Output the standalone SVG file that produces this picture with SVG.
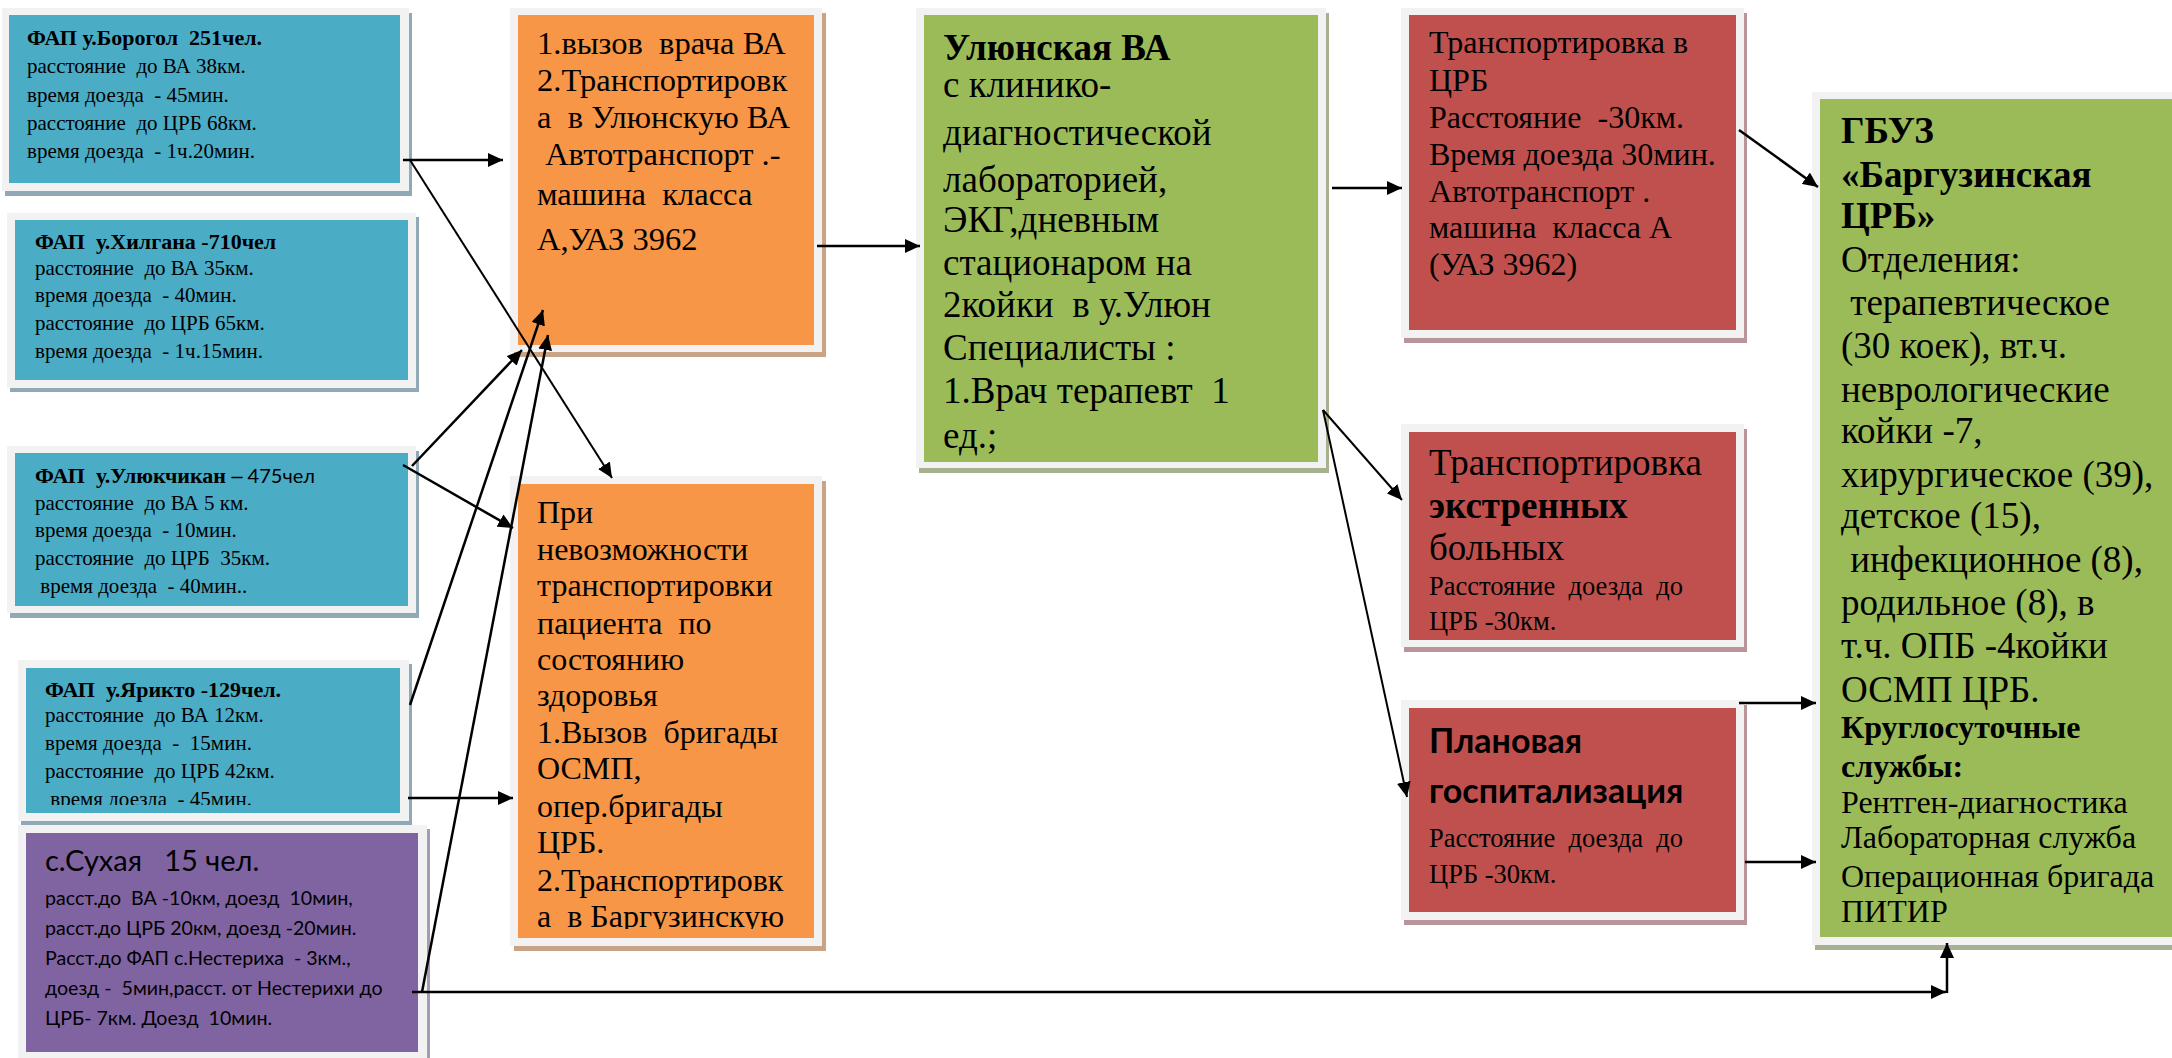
<svg xmlns="http://www.w3.org/2000/svg" width="2172" height="1058" viewBox="0 0 2172 1058">
<defs>
<style>
.t{font-family:"Liberation Serif","Times New Roman",serif;white-space:pre;fill:#000}
.b{font-weight:bold}
.s{font-family:Lato,"Liberation Sans",sans-serif;white-space:pre;fill:#000}
.fr{fill:#f2f2f2}
.blue{fill:#4bacc6}.shb{fill:#8faab6}
.org{fill:#f79646}.sho{fill:#c9a384}
.grn{fill:#9bbb59}.shg{fill:#a6b28f}
.red{fill:#c0504d}.shr{fill:#b9959a}
.pur{fill:#8064a2}.shp{fill:#a49cb2}
.c line{stroke:#000;stroke-width:2.5;fill:none}
.c line.a{marker-end:url(#ah)}
.c line.thin{stroke-width:2}
</style>
<marker id="ah" markerUnits="userSpaceOnUse" markerWidth="16" markerHeight="14" refX="15" refY="7" orient="auto">
<path d="M0,0 L15,7 L0,14 z" fill="#000"/>
</marker>
<clipPath id="clipY"><rect x="26" y="668" width="374" height="137"/></clipPath>
<clipPath id="clipO2"><rect x="518" y="484" width="296" height="445"/></clipPath>
</defs>
<rect x="0" y="0" width="2172" height="1058" fill="#fff"/>

<g id="fap-borogol">
<rect class="shb" x="5" y="13" width="407" height="183"/>
<rect class="fr" x="2" y="8" width="407" height="183"/>
<rect class="blue" x="9" y="15" width="391" height="168"/>
<text class="t" font-size="21"><tspan class="b" x="27" y="45" font-size="22">ФАП у.Борогол  251чел.</tspan><tspan x="27" y="73">расстояние  до ВА 38км.</tspan><tspan x="27" y="102">время доезда  - 45мин.</tspan><tspan x="27" y="130">расстояние  до ЦРБ 68км.</tspan><tspan x="27" y="158">время доезда  - 1ч.20мин.</tspan></text>
</g>

<g id="fap-khilgana">
<rect class="shb" x="10" y="217" width="409" height="175"/>
<rect class="fr" x="7" y="213" width="409" height="175"/>
<rect class="blue" x="15" y="220" width="393" height="160"/>
<text class="t" font-size="21"><tspan class="b" x="35" y="249" font-size="22">ФАП  у.Хилгана -710чел</tspan><tspan x="35" y="275">расстояние  до ВА 35км.</tspan><tspan x="35" y="302">время доезда  - 40мин.</tspan><tspan x="35" y="330">расстояние  до ЦРБ 65км.</tspan><tspan x="35" y="358">время доезда  - 1ч.15мин.</tspan></text>
</g>

<g id="fap-ulyukchikan">
<rect class="shb" x="10" y="451" width="409" height="167"/>
<rect class="fr" x="7" y="446" width="409" height="167"/>
<rect class="blue" x="15" y="453" width="393" height="153"/>
<text class="t" font-size="21"><tspan class="b" x="35" y="483" font-size="22">ФАП  у.Улюкчикан –</tspan><tspan class="s" font-size="20"> 475чел</tspan><tspan x="35" y="510">расстояние  до ВА 5 км.</tspan><tspan x="35" y="537">время доезда  - 10мин.</tspan><tspan x="35" y="565">расстояние  до ЦРБ  35км.</tspan><tspan x="35" y="593"> время доезда  - 40мин..</tspan></text>
</g>

<g id="fap-yarikto">
<rect class="shb" x="21" y="664" width="391" height="161"/>
<rect class="fr" x="18" y="660" width="391" height="161"/>
<rect class="blue" x="26" y="668" width="374" height="145"/>
<text class="t" font-size="21" clip-path="url(#clipY)"><tspan class="b" x="45" y="697" font-size="22">ФАП  у.Ярикто -129чел.</tspan><tspan x="45" y="722">расстояние  до ВА 12км.</tspan><tspan x="45" y="750">время доезда  -  15мин.</tspan><tspan x="45" y="778">расстояние  до ЦРБ 42км.</tspan><tspan x="45" y="806"> время доезда  - 45мин.</tspan></text>
</g>

<g id="sukhaya">
<rect class="shp" x="21" y="829" width="409" height="240"/>
<rect class="fr" x="18" y="825" width="409" height="240"/>
<rect class="pur" x="26" y="833" width="392" height="219"/>
<text class="s"><tspan x="45" y="871" font-size="29">с.Сухая   15 чел.</tspan><tspan x="45" y="905" font-size="19.6">расст.до  ВА -10км, доезд  10мин,</tspan><tspan x="45" y="935" font-size="19.6">расст.до ЦРБ 20км, доезд -20мин.</tspan><tspan x="45" y="965" font-size="19.6">Расст.до ФАП с.Нестериха  - 3км.,</tspan><tspan x="45" y="995" font-size="19.6">доезд -  5мин,расст. от Нестерихи до</tspan><tspan x="45" y="1025" font-size="19.6">ЦРБ- 7км. Доезд  10мин.</tspan></text>
</g>

<g id="call-doctor">
<rect class="sho" x="514" y="13" width="312" height="344"/>
<rect class="fr" x="510" y="8" width="312" height="344"/>
<rect class="org" x="518" y="15" width="296" height="330"/>
<text class="t" font-size="32.5"><tspan x="537" y="54">1.вызов  врача ВА</tspan><tspan x="537" y="91">2.Транспортировк</tspan><tspan x="537" y="128">а  в Улюнскую ВА</tspan><tspan x="537" y="165"> Автотранспорт .-</tspan><tspan x="537" y="205">машина  класса</tspan><tspan x="537" y="250">А,УАЗ 3962</tspan></text>
</g>

<g id="emergency-team">
<rect class="sho" x="514" y="481" width="312" height="470"/>
<rect class="fr" x="510" y="476" width="312" height="470"/>
<rect class="org" x="518" y="484" width="296" height="454"/>
<text class="t" font-size="32" clip-path="url(#clipO2)"><tspan x="537" y="523">При</tspan><tspan x="537" y="560">невозможности</tspan><tspan x="537" y="596">транспортировки</tspan><tspan x="537" y="634">пациента  по</tspan><tspan x="537" y="670">состоянию</tspan><tspan x="537" y="706">здоровья</tspan><tspan x="537" y="743">1.Вызов  бригады</tspan><tspan x="537" y="779">ОСМП,</tspan><tspan x="537" y="817">опер.бригады</tspan><tspan x="537" y="853">ЦРБ.</tspan><tspan x="537" y="891">2.Транспортировк</tspan><tspan x="537" y="927">а  в Баргузинскую</tspan></text>
</g>

<g id="ulyun-va">
<rect class="shg" x="919" y="13" width="410" height="460"/>
<rect class="fr" x="916" y="8" width="410" height="460"/>
<rect class="grn" x="924" y="15" width="394" height="447"/>
<text class="t" font-size="37"><tspan class="b" x="943" y="60">Улюнская ВА</tspan><tspan x="943" y="97">с клинико-</tspan><tspan x="943" y="145">диагностической</tspan><tspan x="943" y="192">лабораторией,</tspan><tspan x="943" y="232">ЭКГ,дневным</tspan><tspan x="943" y="275">стационаром на</tspan><tspan x="943" y="317">2койки  в у.Улюн</tspan><tspan x="943" y="360">Специалисты :</tspan><tspan x="943" y="403">1.Врач терапевт  1</tspan><tspan x="943" y="448">ед.;</tspan></text>
</g>

<g id="transport-crb">
<rect class="shr" x="1404" y="13" width="343" height="330"/>
<rect class="fr" x="1401" y="8" width="343" height="330"/>
<rect class="red" x="1409" y="15" width="327" height="315"/>
<text class="t" font-size="32"><tspan x="1429" y="53">Транспортировка в</tspan><tspan x="1429" y="91">ЦРБ</tspan><tspan x="1429" y="128">Расстояние  -30км.</tspan><tspan x="1429" y="165">Время доезда 30мин.</tspan><tspan x="1429" y="202">Автотранспорт .</tspan><tspan x="1429" y="238">машина  класса А</tspan><tspan x="1429" y="275">(УАЗ 3962)</tspan></text>
</g>

<g id="transport-emergency">
<rect class="shr" x="1404" y="429" width="343" height="223"/>
<rect class="fr" x="1401" y="424" width="343" height="223"/>
<rect class="red" x="1409" y="432" width="327" height="208"/>
<text class="t"><tspan x="1429" y="475" font-size="37">Транспортировка</tspan><tspan class="b" x="1429" y="518" font-size="37">экстренных</tspan><tspan x="1429" y="560" font-size="37">больных</tspan><tspan x="1429" y="595" font-size="26.5">Расстояние  доезда  до</tspan><tspan x="1429" y="630" font-size="26.5">ЦРБ -30км.</tspan></text>
</g>

<g id="planned">
<rect class="shr" x="1404" y="705" width="343" height="220"/>
<rect class="fr" x="1401" y="700" width="343" height="220"/>
<rect class="red" x="1409" y="708" width="327" height="204"/>
<text class="s b" font-size="34"><tspan x="1429" y="753">Плановая</tspan><tspan x="1429" y="803">госпитализация</tspan></text>
<text class="t" font-size="26.5"><tspan x="1429" y="847">Расстояние  доезда  до</tspan><tspan x="1429" y="883">ЦРБ -30км.</tspan></text>
</g>

<g id="gbuz">
<rect class="shg" x="1815" y="97" width="380" height="853"/>
<rect class="fr" x="1812" y="92" width="380" height="853"/>
<rect class="grn" x="1820" y="99" width="370" height="838"/>
<text class="t" font-size="37"><tspan class="b" x="1841" y="143">ГБУЗ</tspan><tspan class="b" x="1841" y="187">«Баргузинская</tspan><tspan class="b" x="1841" y="228">ЦРБ»</tspan><tspan x="1841" y="272">Отделения:</tspan><tspan x="1841" y="315"> терапевтическое</tspan><tspan x="1841" y="358">(30 коек), вт.ч.</tspan><tspan x="1841" y="402">неврологические</tspan><tspan x="1841" y="443">койки -7,</tspan><tspan x="1841" y="487">хирургическое (39),</tspan><tspan x="1841" y="528">детское (15),</tspan><tspan x="1841" y="572"> инфекционное (8),</tspan><tspan x="1841" y="615">родильное (8), в</tspan><tspan x="1841" y="658">т.ч. ОПБ -4койки</tspan><tspan x="1841" y="702">ОСМП ЦРБ.</tspan></text>
<text class="t" font-size="32"><tspan class="b" x="1841" y="738">Круглосуточные</tspan><tspan class="b" x="1841" y="777">службы:</tspan><tspan x="1841" y="813">Рентген-диагностика</tspan><tspan x="1841" y="848">Лабораторная служба</tspan><tspan x="1841" y="887">Операционная бригада</tspan><tspan x="1841" y="922">ПИТИР</tspan></text>
</g>

<g id="connectors" class="c">
<line class="a" x1="403" y1="160" x2="503" y2="160"/>
<line class="a thin" x1="410" y1="160" x2="612" y2="478"/>
<line class="a" x1="403" y1="465" x2="513" y2="528"/>
<line class="a" x1="412" y1="466" x2="522" y2="350"/>
<line class="a" x1="410" y1="705" x2="543" y2="310"/>
<line class="a" x1="408" y1="798" x2="513" y2="798"/>
<line class="a" x1="422" y1="992" x2="548" y2="335"/>
<line class="a" x1="412" y1="992" x2="1946" y2="992"/>
<line class="a" x1="1947" y1="993" x2="1947" y2="943"/>
<line class="a" x1="817" y1="246" x2="920" y2="246"/>
<line class="a" x1="1332" y1="188" x2="1402" y2="188"/>
<line class="a thin" x1="1323" y1="410" x2="1402" y2="500"/>
<line class="a thin" x1="1323" y1="410" x2="1407" y2="797"/>
<line class="a" x1="1739" y1="130" x2="1818" y2="187"/>
<line class="a" x1="1739" y1="703" x2="1816" y2="703"/>
<line class="a" x1="1745" y1="862" x2="1816" y2="862"/>
</g>
</svg>
